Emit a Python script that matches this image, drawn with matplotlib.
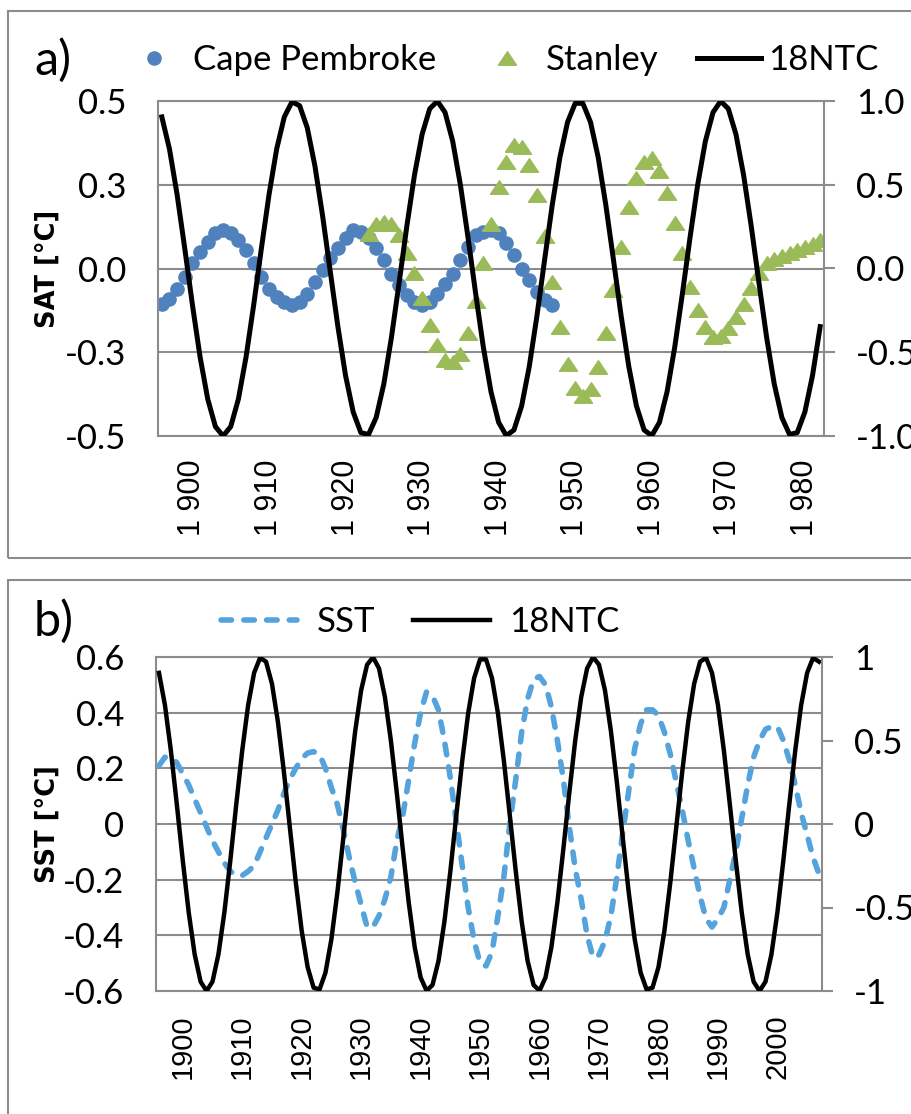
import matplotlib.pyplot as plt
from matplotlib.lines import Line2D
from matplotlib.patches import Rectangle

# 18.6-yr nodal tide curve, 1896-2007 (right axis)
ntc_years = list(range(1896, 2008))
ntc = [0.905, 0.713, 0.440, 0.118, -0.218, -0.529, -0.780, -0.944, -1.000, -0.944,
       -0.780, -0.529, -0.218, 0.118, 0.440, 0.713, 0.905, 0.995, 0.972, 0.840,
       0.612, 0.315, -0.017, -0.347, -0.639, -0.857, -0.980, -0.991, -0.890, -0.689,
       -0.410, -0.084, 0.251, 0.557, 0.801, 0.954, 0.999, 0.932, 0.759, 0.500,
       0.185, -0.151, -0.470, -0.736, -0.919, -0.998, -0.964, -0.821, -0.585, -0.283,
       0.051, 0.379, 0.664, 0.874, 0.986, 0.986, 0.874, 0.664, 0.379, 0.051,
       -0.283, -0.585, -0.821, -0.964, -0.998, -0.919, -0.736, -0.470, -0.151, 0.185,
       0.500, 0.759, 0.932, 0.999, 0.954, 0.801, 0.557, 0.251, -0.084, -0.410,
       -0.689, -0.890, -0.991, -0.980, -0.857, -0.639, -0.347, -0.017, 0.315, 0.612,
       0.840, 0.972, 0.995, 0.905, 0.713, 0.440, 0.118, -0.218, -0.529, -0.780,
       -0.944, -1.000, -0.944, -0.780, -0.529, -0.218, 0.118, 0.440, 0.713, 0.905,
       0.995, 0.972]

# panel a: SAT
cape_years = list(range(1896, 1948))
cape = [-0.105, -0.09, -0.06, -0.025, 0.015, 0.05, 0.08, 0.105, 0.115, 0.105,
        0.085, 0.055, 0.015, -0.025, -0.06, -0.085, -0.10, -0.11, -0.10, -0.075,
        -0.04, -0.005, 0.03, 0.06, 0.09, 0.115, 0.11, 0.09, 0.06, 0.025,
        -0.015, -0.05, -0.08, -0.10, -0.11, -0.10, -0.075, -0.045, -0.015, 0.025,
        0.065, 0.10, 0.11, 0.115, 0.105, 0.075, 0.04, 0.0, -0.035, -0.07,
        -0.095, -0.11]
stanley_years = list(range(1923, 1983))
stanley = [0.103, 0.133, 0.140, 0.133, 0.100, 0.045, -0.014, -0.089, -0.169, -0.228,
           -0.273, -0.278, -0.256, -0.192, -0.096, 0.016, 0.134, 0.244, 0.319, 0.369,
           0.364, 0.308, 0.219, 0.097, -0.039, -0.174, -0.286, -0.358, -0.380, -0.360,
           -0.293, -0.194, -0.064, 0.065, 0.185, 0.269, 0.319, 0.329, 0.292, 0.226,
           0.135, 0.045, -0.054, -0.124, -0.174, -0.203, -0.201, -0.179, -0.146, -0.106,
           -0.059, -0.014, 0.017, 0.027, 0.037, 0.045, 0.055, 0.063, 0.073, 0.085]

# panel b: SST
sst_years = list(range(1896, 2008))
sst = [0.21, 0.24, 0.24, 0.22, 0.18, 0.14, 0.09, 0.04, -0.01, -0.06,
       -0.10, -0.14, -0.17, -0.185, -0.185, -0.17, -0.15, -0.10, -0.05, 0.00,
       0.05, 0.11, 0.16, 0.20, 0.235, 0.255, 0.26, 0.25, 0.20, 0.13,
       0.07, -0.02, -0.12, -0.21, -0.29, -0.37, -0.37, -0.33, -0.27, -0.19,
       -0.06, 0.03, 0.16, 0.29, 0.40, 0.475, 0.46, 0.41, 0.30, 0.165,
       0.01, -0.15, -0.30, -0.42, -0.50, -0.51, -0.46, -0.33, -0.19, 0.00,
       0.16, 0.33, 0.45, 0.52, 0.53, 0.50, 0.42, 0.30, 0.16, -0.01,
       -0.16, -0.27, -0.40, -0.48, -0.47, -0.42, -0.33, -0.19, -0.03, 0.12,
       0.27, 0.36, 0.41, 0.41, 0.39, 0.33, 0.25, 0.15, 0.05, -0.06,
       -0.16, -0.26, -0.34, -0.37, -0.34, -0.30, -0.20, -0.10, 0.02, 0.14,
       0.24, 0.30, 0.34, 0.35, 0.35, 0.30, 0.23, 0.14, 0.04, -0.04,
       -0.12, -0.18]

xticks_a = [1900, 1910, 1920, 1930, 1940, 1950, 1960, 1970, 1980]
xlabels_a = ['1 900', '1 910', '1 920', '1 930', '1 940', '1 950', '1 960', '1 970', '1 980']
xticks_b = [1900, 1910, 1920, 1930, 1940, 1950, 1960, 1970, 1980, 1990, 2000]
xlabels_b = ['1900', '1910', '1920', '1930', '1940', '1950', '1960', '1970', '1980', '1990', '2000']
yticks_a = [-0.5, -0.25, 0.0, 0.25, 0.5]
ylabels_a = ['-0.5', '-0.3', '0.0', '0.3', '0.5']
y2ticks_a = [-1.0, -0.5, 0.0, 0.5, 1.0]
y2labels_a = ['-1.0', '-0.5', '0.0', '0.5', '1.0']
yticks_b = [-0.6, -0.4, -0.2, 0.0, 0.2, 0.4, 0.6]
ylabels_b = ['-0.6', '-0.4', '-0.2', '0', '0.2', '0.4', '0.6']
y2ticks_b = [-1.0, -0.5, 0.0, 0.5, 1.0]
y2labels_b = ['-1', '-0.5', '0', '0.5', '1']

plt.rcParams['font.family'] = ['Lato', 'DejaVu Sans']

W, H = 912, 1114
GRAY = '#8c8c8c'
BLUE = '#4f81bd'
GREEN = '#9bbb59'
LIGHTBLUE = '#55a3dc'
TRI = [(-1, -0.75), (1, -0.75), (0, 0.75), (-1, -0.75)]
FS = 25
ARIAL = ['Liberation Sans', 'DejaVu Sans']

fig = plt.figure(figsize=(W / 100, H / 100), dpi=100)
fig.patch.set_facecolor('white')

# panel frames
fig.add_artist(Rectangle((8 / W, 1 - 558 / H), 1, (558 - 11) / H, transform=fig.transFigure,
                         fill=False, ec=GRAY, lw=1.5))
fig.add_artist(Rectangle((8 / W, -0.05), 1, (H - 580) / H + 0.05, transform=fig.transFigure,
                         fill=False, ec=GRAY, lw=1.5))


def style(ax, ax2, yticks, ylabels, y2ticks, y2labels, xticks, xlabels, xfs):
    ax.set_yticks(yticks)
    ax.set_yticklabels(ylabels)
    ax2.set_yticks(y2ticks)
    ax2.set_yticklabels(y2labels)
    ax.set_xticks(xticks)
    ax.set_xticklabels(xlabels, rotation=90, family=ARIAL, fontsize=xfs)
    ax.yaxis.grid(True, color=GRAY, lw=1.5)
    ax.set_axisbelow(True)
    for s in ax.spines.values():
        s.set_color(GRAY)
        s.set_linewidth(1.5)
    ax.spines['right'].set_visible(False)
    for s in ['left', 'top', 'bottom']:
        ax2.spines[s].set_visible(False)
    ax2.spines['right'].set_color(GRAY)
    ax2.spines['right'].set_linewidth(1.5)
    ax.tick_params(axis='y', length=0, pad=23, labelsize=FS)
    ax.tick_params(axis='x', length=0, pad=17)
    ax2.tick_params(axis='y', length=8, width=1.5, color=GRAY, pad=15, labelsize=FS)


# ---- panel a ----
ax = fig.add_axes([158 / W, 1 - 436 / H, 666 / W, 335 / H])
ax2 = ax.twinx()
ax.plot(cape_years, cape, 'o', color=BLUE, ms=9.5, mec=BLUE)
ax.plot(stanley_years, stanley, ls='none', marker=TRI, color=GREEN, ms=13, mec=GREEN)
n_a = len(range(1896, 1983))
ax2.plot(ntc_years[:n_a], ntc[:n_a], color='black', lw=3.6)
ax.set_xlim(1895.5, 1982.5)
ax.set_ylim(-0.5, 0.5)
ax2.set_ylim(-1, 1)
style(ax, ax2, yticks_a, ylabels_a, y2ticks_a, y2labels_a, xticks_a, xlabels_a, 22)
ax.set_ylabel('SAT [°C]', family='DejaVu Sans', fontweight='bold', fontsize=18.5)
ax.yaxis.set_label_coords(-0.146, 0.5)

handles_a = [Line2D([], [], ls='none', marker='o', color=BLUE, ms=9.5),
             Line2D([], [], ls='none', marker=TRI, color=GREEN, ms=13),
             Line2D([], [], color='black', lw=3.6)]
fig.legend(handles_a, ['Cape Pembroke', 'Stanley', '18NTC'], loc='center',
           bbox_to_anchor=(500 / W, 1 - 60 / H), ncol=3, frameon=False, fontsize=FS,
           handlelength=1.85, handletextpad=0.2, columnspacing=1.1, borderpad=0, borderaxespad=0)
fig.text(34 / W, 1 - 60 / H, 'a)', fontsize=35, ha='left', va='center')

# ---- panel b ----
bx = fig.add_axes([156 / W, 1 - 991 / H, 666 / W, 334 / H])
bx2 = bx.twinx()
bx.plot(sst_years, sst, color=LIGHTBLUE, lw=4.0, dashes=(1.9, 2.2), dash_capstyle='round')
bx2.plot(ntc_years, ntc, color='black', lw=3.2)
bx.set_xlim(1895.5, 2007.5)
bx.set_ylim(-0.6, 0.6)
bx2.set_ylim(-1, 1)
style(bx, bx2, yticks_b, ylabels_b, y2ticks_b, y2labels_b, xticks_b, xlabels_b, 21)
bx.set_ylabel('SST [°C]', family='DejaVu Sans', fontweight='bold', fontsize=18.5)
bx.yaxis.set_label_coords(-0.143, 0.5)

handles_b = [Line2D([], [], color=LIGHTBLUE, lw=4.0, dashes=(1.9, 2.2), dash_capstyle='round'),
             Line2D([], [], color='black', lw=3.2)]
fig.legend(handles_b, ['SST', '18NTC'], loc='center',
           bbox_to_anchor=(420 / W, 1 - 622 / H), ncol=2, frameon=False, fontsize=FS,
           handlelength=2.2, handletextpad=0.55, columnspacing=1.1, borderpad=0, borderaxespad=0)
fig.text(34 / W, 1 - 621 / H, 'b)', fontsize=35, ha='left', va='center')

fig.savefig('out.png', dpi=100)
